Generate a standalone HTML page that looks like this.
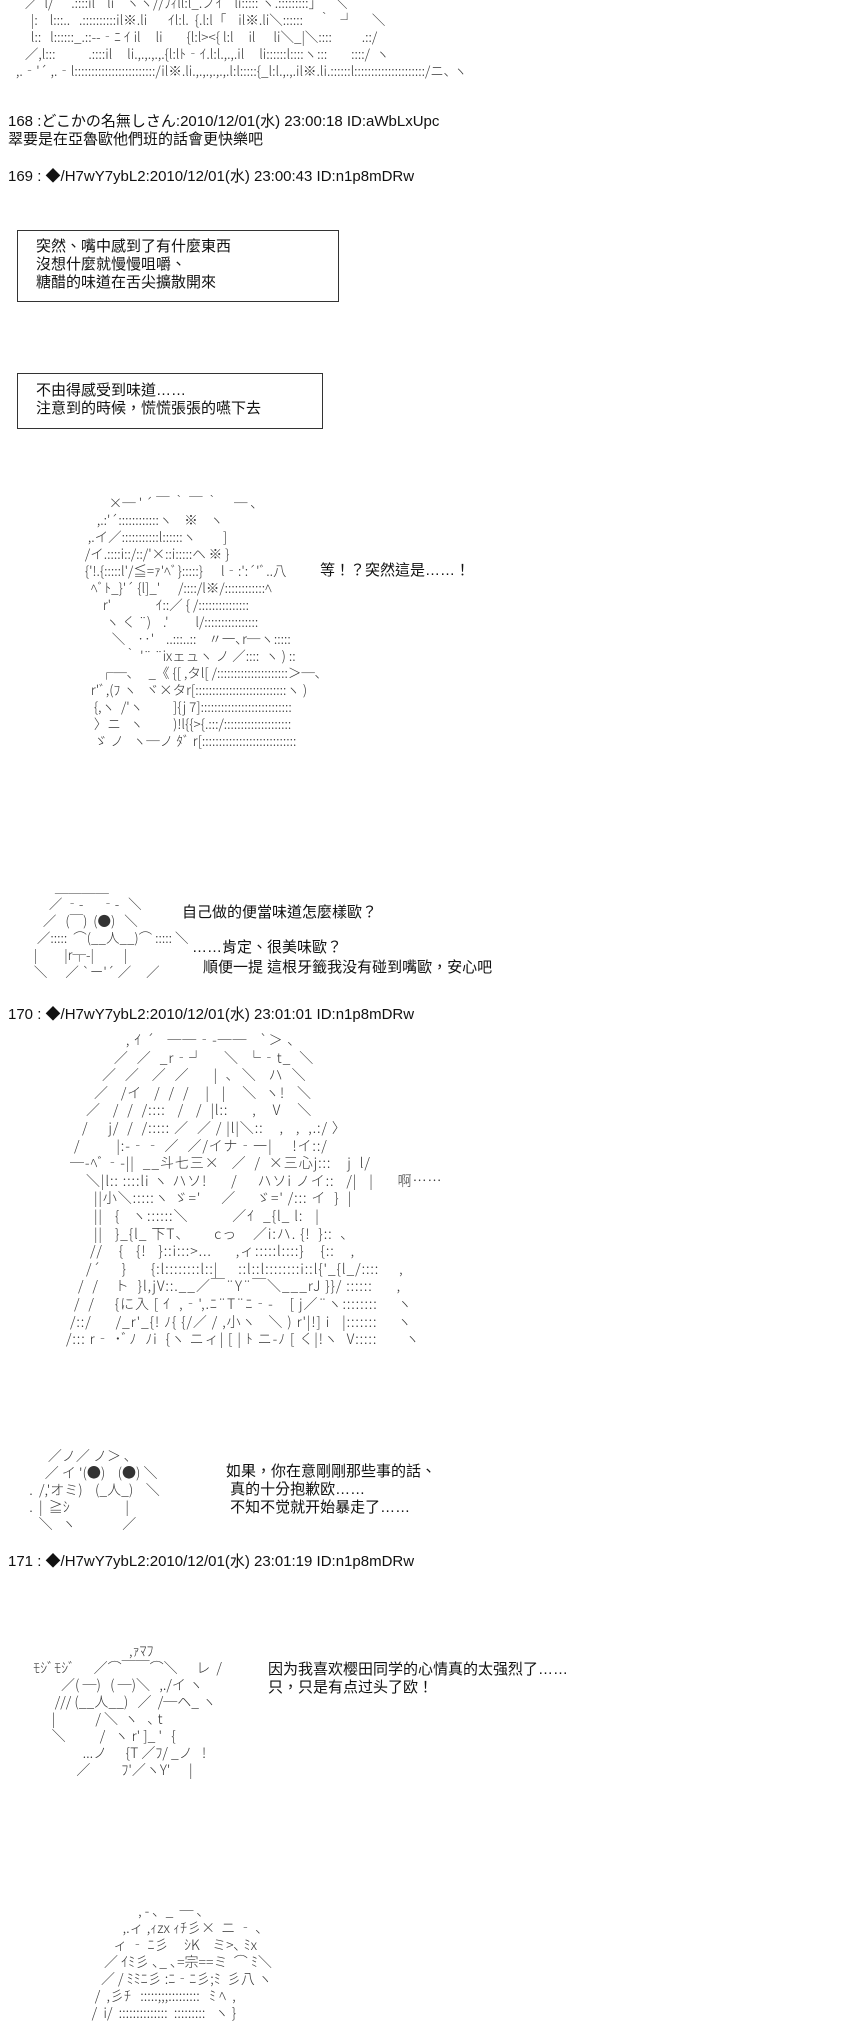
<!DOCTYPE html>
<html><head><meta charset="utf-8">
<style>
html,body{margin:0;padding:0;background:#fff;}
body{width:850px;height:2000px;position:relative;overflow:hidden;font-family:"Liberation Sans","Noto Sans CJK TC","Noto Sans CJK JP",sans-serif;color:#111;}
.t{position:absolute;font-size:15px;line-height:18px;white-space:pre;}
.a{position:absolute;font-family:"Noto Sans CJK JP","Liberation Sans",sans-serif;font-size:13.5px;line-height:17px;white-space:pre;color:#333;margin:0;font-weight:300;}
.box{position:absolute;border:1px solid #333;}
</style></head><body>

<pre class="a" style="left:10px;top:-6px;">     ／  l/      .::::il    li    ヽヽ//ﾌｨll:l_.ノｲ    li::::: ヽ.:::::::::」    ＼
       |:    l:::..   .::::::::::il※.li       ｲl:l.  {.l:l「    il※.li＼::::::     ｀   ┘      ＼
       l::   l::::::_.::--‐ﾆ ｲ il     li        {l:l><{ l:l     il      li＼_|＼::::          .::/
     ／,l:::           .::::il     li.,.,.,.,.{l:lﾄ‐ｲ.l:l.,.,.il     li::::::l::::ヽ:::        ::::/  ヽ
  ,.‐'´ ,.‐l::::::::::::::::::::::::/il※.li.,.,.,.,.,.l:l:::::{_l:l.,.,.il※.li.::::::l:::::::::::::::::::::/ニ､ ヽ</pre>

<div class="t" style="left:8px;top:113px;">168 :どこかの名無しさん:2010/12/01(水) 23:00:18 ID:aWbLxUpc
翠要是在亞魯歐他們班的話會更快樂吧</div>
<div class="t" style="left:8px;top:168px;">169 : ◆/H7wY7ybL2:2010/12/01(水) 23:00:43 ID:n1p8mDRw</div>

<div class="box" style="left:17px;top:230px;width:320px;height:70px;"></div>
<div class="t" style="left:36px;top:238px;">突然、嘴中感到了有什麼東西
沒想什麼就慢慢咀嚼、
糖醋的味道在舌尖擴散開來</div>

<div class="box" style="left:17px;top:373px;width:304px;height:54px;"></div>
<div class="t" style="left:36px;top:382px;">不由得感受到味道……
注意到的時候，慌慌張張的嚥下去</div>

<pre class="a" style="left:70px;top:494px;">             ×─ ' ´ ￣ ｀ ￣ ｀     ─ ､
         ,.:'´::::::::::::ヽ    ※    ヽ
      ,.イ／:::::::::::l::::::ヽ         ]
     /イ.::::i::/::/'×::i:::::ヘ ※ }
     {'!.{:::::l'/≦=ｧ'ﾍﾞ}:::::}      l‐:':´'ﾞ..八
       ﾍﾞﾄ_}'´ {l]_'      /::::/l※/::::::::::::ﾍ
           r'               ｲ::／ { /:::::::::::::::
            ヽ く ¨)    .'         l/::::::::::::::::
              ＼    ‥'    ..:::..::    〃一､r─ヽ:::::
                  ｀ '¨ ¨ixェュヽ ノ ／::::  ヽ ) ::
          ┌─､     _《 {[ ,タl[ /:::::::::::::::::::::＞─､
       r'ﾞ,(ﾌ ヽ   ヾ×タr[:::::::::::::::::::::::::::ヽ )
        {,ヽ  /'ヽ          ]{j 7]:::::::::::::::::::::::::::
        〉ニ   ヽ          )!l{{>{.:::/::::::::::::::::::::
        ゞ ノ   ヽ─ノ ﾀﾞ r[::::::::::::::::::::::::::::</pre>
<div class="t" style="left:320px;top:562px;">等！？突然這是……！</div>

<pre class="a" style="left:22px;top:878px;">           ＿＿＿＿
         ／ ‐-      ‐-   ＼
       ／   (￣)  (●)   ＼
     ／:::::  ⌒(__人__)⌒ ::::: ＼
    |         |r┬-|          |
    ＼      ／ `ー'´ ／     ／</pre>
<div class="t" style="left:182px;top:904px;">自己做的便當味道怎麼樣歐？</div>
<div class="t" style="left:192px;top:939px;">……肯定、很美味歐？</div>
<div class="t" style="left:203px;top:959px;">順便一提 這根牙籤我没有碰到嘴歐，安心吧</div>

<div class="t" style="left:8px;top:1006px;">170 : ◆/H7wY7ybL2:2010/12/01(水) 23:01:01 ID:n1p8mDRw</div>

<pre class="a" style="left:62px;top:1032px;font-size:14px;line-height:17.6px;letter-spacing:0.9px;">                , ｲ ´   ──‐-──   `＞ ､
             ／  ／  _r‐┘     ＼  └‐t_  ＼
          ／  ／   ／  ／      |  ､  ＼   ハ  ＼
        ／   /イ   /  /  /    |   |    ＼  ヽ!   ＼
      ／   /  /  /::::   /   /  |l::      ,    V    ＼
     /     j/  /  /::::: ／  ／ / |l|＼::    ,   ,  ,.:/ 〉
   /         |:-‐‐ ／  ／/イナ‐一|     !イ::/
  ─-ﾍﾞ‐-||  __斗七三×   ／  /  ×三心j:::    j  l/
      ＼|l:: ::::li ヽ ハソ!      /     ハソi ノイ::   /|   |      啊……
        ||小＼:::::ヽ ゞ='     ／     ゞ=' /::: イ  }  |
        ||   {   ヽ::::::＼           ／ｲ  _{l_ l:   |
        ||   }_{l_ 下T、      cっ    ／i:ハ. {!  }::  ､
       //    {   {!   }::i:::>...      ,ィ:::::l::::}    {::    ,
      /´     }      {:l::::::::l::|     ::l::l::::::::i::l{'_{l_/::::     ,
    /  /    ト  }l,jV::.__／￣¨Y¨￣＼___rJ }}/ ::::::      ,
   /  /     {に入 [ ｲ  ,‐',.ﾆ¨T¨ﾆ‐-    [ j／¨ヽ::::::::     ヽ
  /::/      /_r'_{! ﾉ{ {/／ / ,小ヽ   ＼ ) r'|!] i   |:::::::     ヽ
 /::: r‐ ･ﾞﾉ  ﾉi  {ヽ ニィ| [ | ﾄ ニ-ﾉ [ く|!ヽ  V:::::       ヽ</pre>

<pre class="a" style="left:20px;top:1448px;font-size:14px;">         ／ノ／ ノ＞ ､
        ／ イ '(●)    (●) ＼
   .  /,'オミ)    (_人_)    ＼
   .  |  ≧ｼ                  |
      ＼   ヽ               ／</pre>
<div class="t" style="left:226px;top:1463px;">如果，你在意剛剛那些事的話、
 真的十分抱歉欧……
 不知不觉就开始暴走了……</div>

<div class="t" style="left:8px;top:1553px;">171 : ◆/H7wY7ybL2:2010/12/01(水) 23:01:19 ID:n1p8mDRw</div>

<pre class="a" style="left:30px;top:1643px;font-size:14px;">                                ,ｧﾏﾌ
 ﾓｼﾞﾓｼﾞ      ／⌒￣￣⌒＼      レ  /
          ／( ─)   ( ─)＼   ,./イ ヽ
        /// (__人__)   ／  /─ヘ_ ヽ
       |             / ＼  ヽ   ､ t
       ＼           /   ヽ r' ]_ '   {
                 ...ノ      {T ／ﾌ/ _ノ   !
               ／          ﾌ'／ヽY'      |</pre>
<div class="t" style="left:268px;top:1661px;">因为我喜欢樱田同学的心情真的太强烈了……
只，只是有点过头了欧！</div>

<pre class="a" style="left:70px;top:1903px;font-size:14px;">                      , - ､  _  ─ ､
                 ,.ィ ,ｨzx ｨﾁ彡×  ニ ‐ ､
              ィ ‐ ﾆ彡     ｼK    ミ>､ ﾐx
           ／ ｲﾐ彡 ､_ ､=宗==ミ  ⌒ ﾐ＼
          ／ / ﾐﾐﾆ彡 :ﾆ‐ﾆ彡;ﾐ  彡八 ヽ
        /  ,彡ﾁ   :::::;;;:::::::::   ﾐ ﾍ  ,
       /  i/  ::::::::::::::  :::::::::   ヽ }</pre>

</body></html>
